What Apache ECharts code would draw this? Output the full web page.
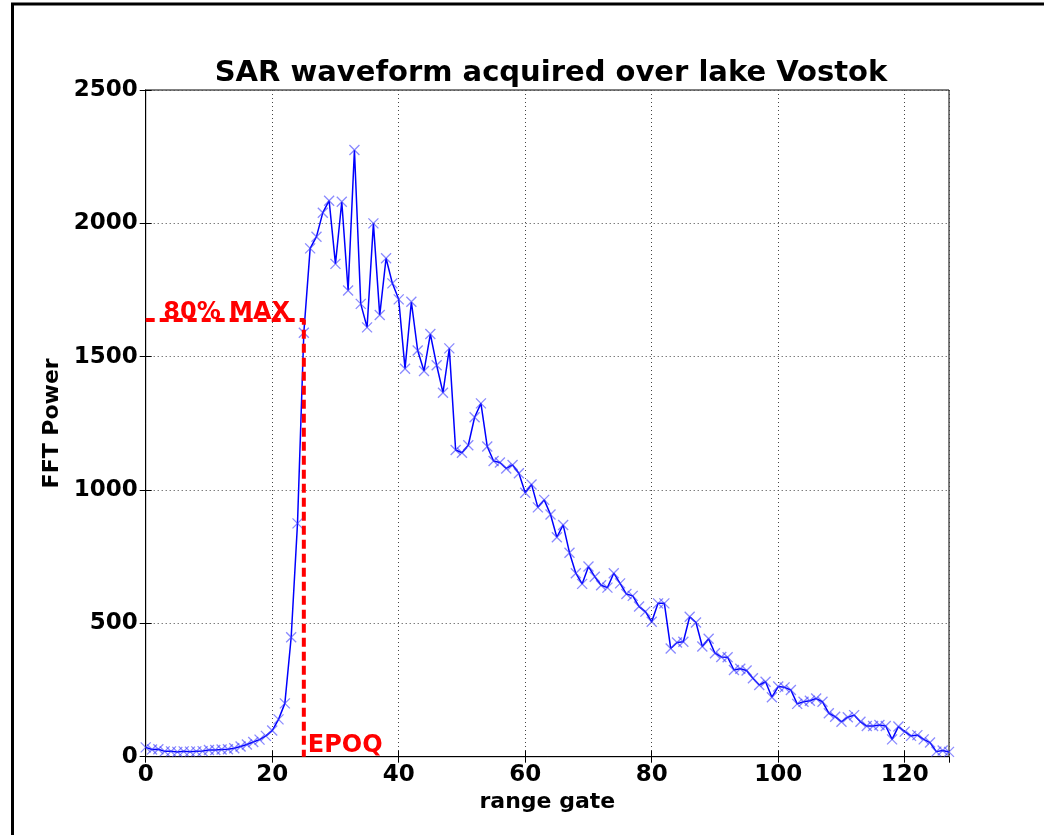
<!DOCTYPE html>
<html>
<head>
<meta charset="utf-8">
<script src="https://cdn.jsdelivr.net/npm/echarts@6/dist/echarts.min.js"></script>
<style>
  html, body { margin: 0; padding: 0; background: #fff; }
  #chart { width: 1044px; height: 835px; }
</style>
</head>
<body>
<div id="chart"></div>
<script>
// FFT power per range gate (0..127)
var power = [
  35, 27, 28, 20, 20, 18, 20, 19, 20, 21,
  25, 25, 27, 28, 32, 38, 46, 55, 64, 78,
  98, 140, 200, 448, 875, 1590, 1906, 1950, 2040, 2085,
  1848, 2081, 1748, 2275, 1698, 1610, 2000, 1656, 1869, 1775,
  1715, 1455, 1706, 1523, 1446, 1585, 1468, 1365, 1531, 1150,
  1140, 1168, 1273, 1325, 1163, 1109, 1103, 1081, 1094, 1063,
  990, 1021, 935, 963, 908, 823, 869, 765, 688, 648,
  713, 675, 643, 634, 688, 650, 610, 603, 563, 544,
  506, 575, 575, 406, 428, 431, 525, 503, 413, 442,
  388, 374, 373, 325, 330, 323, 294, 269, 281, 223,
  263, 260, 250, 198, 206, 210, 218, 206, 163, 150,
  131, 148, 156, 131, 115, 115, 119, 115, 65, 113,
  94, 78, 81, 65, 53, 19, 23, 18
];
var gates = power.map(function (v, i) { return i; });
var xTicks = [0, 20, 40, 60, 80, 100, 120];
var yTicks = [0, 500, 1000, 1500, 2000, 2500];
var epoch = 25;       // EPOQ range gate
var level80 = 1638;   // "80% MAX" threshold

var font = "'DejaVu Sans', sans-serif";
var myChart = echarts.init(document.getElementById("chart"));

var gridLine = { show: true, lineStyle: { color: "#444", width: 1, type: [1, 3] } };

var option = {
  animation: false,
  backgroundColor: "#fff",
  title: {
    text: "SAR waveform acquired over lake Vostok",
    left: 546,
    top: 54,
    textAlign: "center",
    textStyle: { fontFamily: font, fontWeight: "bold", fontSize: 29, color: "#000" },
  },
  graphic: [
    { type: "line", shape: { x1: 11, y1: 4, x2: 1044, y2: 4 }, style: { stroke: "#000", lineWidth: 3 } },
    { type: "line", shape: { x1: 12.5, y1: 3, x2: 12.5, y2: 835 }, style: { stroke: "#000", lineWidth: 3 } },
  ],
  grid: { left: 145.7, right: 95, top: 90, bottom: 78.3, show: true, borderColor: "#000", borderWidth: 1 },
  xAxis: [
    {
      type: "value",
      min: 0,
      max: 127,
      interval: 20,
      name: "range gate",
      nameLocation: "middle",
      nameGap: 31,
      nameTextStyle: { fontFamily: font, fontWeight: "bold", fontSize: 22, color: "#000" },
      axisLine: { show: true, lineStyle: { color: "#000" } },
      axisTick: { show: true, inside: true, length: 6, lineStyle: { color: "#000" } },
      axisLabel: {
        fontFamily: font, fontWeight: "bold", fontSize: 23, color: "#000", margin: 7,
        showMaxLabel: false,
        formatter: function (v) { return xTicks.indexOf(v) >= 0 ? v : ""; },
      },
      splitLine: gridLine,
    },
    {
      type: "value", position: "top", min: 0, max: 127, interval: 20,
      axisLine: { show: true, lineStyle: { color: "#000" } },
      axisTick: { show: true, inside: true, length: 6, lineStyle: { color: "#000" } },
      axisLabel: { show: false }, splitLine: { show: false },
    },
  ],
  yAxis: [
    {
      type: "value",
      min: 0,
      max: 2500,
      interval: 500,
      name: "FFT Power",
      nameLocation: "middle",
      nameGap: 75,
      nameTextStyle: { fontFamily: font, fontWeight: "bold", fontSize: 22, color: "#000" },
      axisLine: { show: true, lineStyle: { color: "#000" } },
      axisTick: { show: true, inside: true, length: 6, lineStyle: { color: "#000" } },
      axisLabel: {
        fontFamily: font, fontWeight: "bold", fontSize: 23, color: "#000", margin: 8,
        formatter: function (v) { return yTicks.indexOf(v) >= 0 ? v : ""; },
      },
      splitLine: gridLine,
    },
    {
      type: "value", position: "right", min: 0, max: 2500, interval: 500,
      axisLine: { show: true, lineStyle: { color: "#000" } },
      axisTick: { show: true, inside: true, length: 6, lineStyle: { color: "#000" } },
      axisLabel: { show: false }, splitLine: { show: false },
    },
  ],
  series: [
    {
      type: "line",
      data: gates.map(function (g, i) { return [g, power[i]]; }),
      symbol: "path://M0,0L10,10M10,0L0,10",
      symbolSize: 10,
      showAllSymbol: true,
      lineStyle: { color: "#0000ff", width: 1.5 },
      itemStyle: { color: "rgba(0,0,255,0)", borderColor: "rgba(60,60,255,0.6)", borderWidth: 1.3 },
      z: 3,
    },
    {
      type: "line",
      data: [[0, level80], [epoch, level80], [epoch, 0]],
      symbol: "none",
      lineStyle: { color: "#ff0000", width: 4, type: [9, 5] },
      z: 4,
      markPoint: {
        symbol: "circle",
        symbolSize: 0,
        data: [
          {
            coord: [12.8, level80],
            label: {
              show: true, formatter: "80% MAX", position: "inside", offset: [0, -7],
              fontFamily: font, fontWeight: "bold", fontSize: 24, color: "#ff0000",
            },
          },
          {
            coord: [epoch, 0],
            label: {
              show: true, formatter: "EPOQ", position: "inside", align: "left", offset: [4, -11],
              fontFamily: font, fontWeight: "bold", fontSize: 24, color: "#ff0000",
            },
          },
        ],
      },
    },
  ],
};

myChart.setOption(option);
</script>
</body>
</html>
